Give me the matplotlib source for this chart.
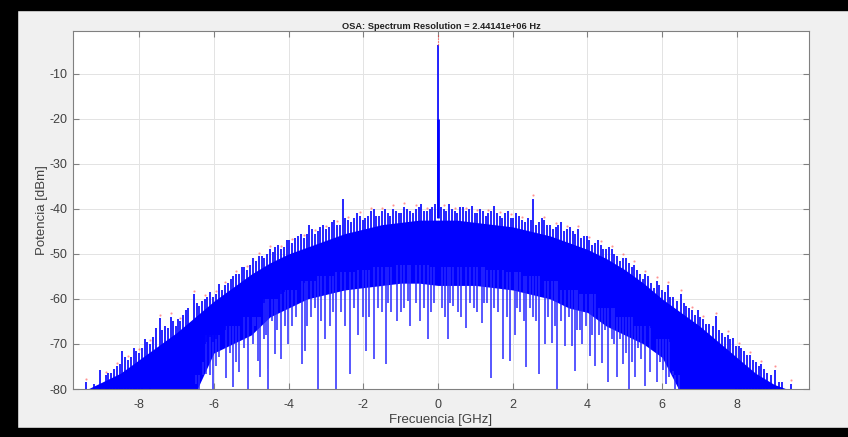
import numpy as np
import matplotlib.pyplot as plt
from matplotlib.patches import Rectangle

plt.rcParams['font.family'] = ['Liberation Sans', 'DejaVu Sans']
plt.rcParams['axes.unicode_minus'] = False

# Body of the spectrum (solid blue band), read every 0.5 GHz
env_f = np.array([-9.5, -9.0, -8.5, -8.0, -7.5, -7.0, -6.5, -6.0, -5.5, -5.0,
                  -4.5, -4.0, -3.5, -3.0, -2.5, -2.0, -1.5, -1.0, -0.5, 0.0,
                  0.5, 1.0, 1.5, 2.0, 2.5, 3.0, 3.5, 4.0, 4.5, 5.0,
                  5.5, 6.0, 6.5, 7.0, 7.5, 8.0, 8.5, 9.0, 9.5])
env_top = np.array([-80.5, -78.5, -76.5, -73.5, -70.5, -67.5, -64.0, -60.5, -57.5, -54.5,
                    -52.0, -50.0, -48.5, -47.0, -45.5, -44.5, -43.5, -43.0, -42.5, -42.5,
                    -42.5, -43.0, -43.5, -44.0, -45.0, -46.0, -47.5, -49.0, -51.0, -53.5,
                    -56.5, -60.0, -63.0, -66.0, -69.5, -73.0, -76.5, -79.0, -80.5])
env_low = np.array([-80.5, -81.0, -81.0, -81.0, -81.0, -81.0, -81.0, -72.0, -70.0, -68.0,
                    -64.0, -62.0, -60.0, -59.0, -58.0, -57.5, -57.0, -56.5, -56.5, -57.0,
                    -57.0, -57.0, -57.5, -58.0, -59.0, -60.0, -62.0, -63.0, -66.0, -68.0,
                    -70.0, -73.0, -81.0, -81.0, -81.0, -81.0, -81.0, -81.0, -80.5])

# Peaks sticking out of the band top
spike_f = np.array([-9.42, -9.05, -8.9, -8.75, -8.6, -8.45, -8.3, -8.15, -8.0, -7.85,
                    -7.7, -7.55, -7.45, -7.3, -7.15, -7.0, -6.9, -6.75, -6.52, -6.4,
                    -6.25, -6.1, -5.95, -5.85, -5.7, -5.55, -5.4, -5.25, -5.1, -4.95,
                    -4.8, -4.65, -4.5, -4.35, -4.2, -4.05, -3.9, -3.75, -3.6, -3.45,
                    -3.3, -3.15, -3.0, -2.85, -2.7, -2.55, -2.4, -2.25, -2.1, -1.95,
                    -1.8, -1.65, -1.5, -1.35, -1.2, -1.05, -0.9, -0.75, -0.6, -0.45,
                    -0.3, -0.15, 0.15, 0.3, 0.45, 0.6, 0.75, 0.9, 1.05, 1.2,
                    1.35, 1.5, 1.65, 1.8, 1.95, 2.1, 2.25, 2.4, 2.55, 2.7,
                    2.85, 3.0, 3.15, 3.3, 3.45, 3.6, 3.75, 3.9, 4.05, 4.2,
                    4.35, 4.5, 4.65, 4.8, 4.95, 5.1, 5.25, 5.4, 5.55, 5.7,
                    5.85, 6.0, 6.15, 6.3, 6.5, 6.65, 6.8, 6.95, 7.1, 7.25,
                    7.45, 7.6, 7.75, 7.9, 8.05, 8.2, 8.35, 8.5, 8.65, 8.8,
                    9.03, 9.2, 9.44])
spike_top = np.array([-78.5, -75.8, -77.0, -76.5, -75.0, -71.5, -73.5, -71.0, -72.0, -69.0,
                      -70.0, -66.5, -64.3, -66.0, -64.0, -66.0, -65.0, -62.5, -59.0, -61.5,
                      -60.0, -58.5, -59.0, -56.7, -57.0, -55.5, -54.5, -53.0, -53.5, -51.0,
                      -50.5, -51.0, -49.0, -48.5, -49.0, -47.0, -47.5, -46.0, -46.5, -43.5,
                      -45.5, -44.0, -44.5, -43.0, -43.5, -37.8, -42.5, -42.0, -41.5, -42.0,
                      -40.5, -41.5, -40.5, -41.0, -40.0, -41.0, -39.5, -40.5, -40.0, -39.0,
                      -40.5, -39.5, -40.0, -39.0, -40.5, -39.5, -40.5, -39.3, -41.0, -40.5,
                      -41.0, -39.3, -41.5, -41.0, -42.0, -41.0, -42.5, -42.0, -37.8, -43.0,
                      -42.5, -43.5, -44.0, -43.0, -44.5, -45.0, -44.5, -46.0, -47.0, -47.5,
                      -48.0, -49.0, -49.0, -50.5, -50.8, -52.0, -52.4, -54.5, -54.5, -56.5,
                      -56.0, -58.0, -57.0, -59.5, -58.8, -61.5, -62.5, -62.5, -64.5, -65.5,
                      -63.9, -67.5, -68.0, -68.6, -70.5, -71.5, -72.5, -74.0, -74.5, -76.5,
                      -75.8, -78.5, -78.9])

# Smaller peaks in between
spike2_f = np.array([-9.2, -8.83, -8.68, -8.52, -8.38, -8.22, -8.08, -7.93, -7.78, -7.62,
                     -7.38, -7.22, -7.08, -6.95, -6.83, -6.68, -6.46, -6.32, -6.18, -6.02,
                     -5.78, -5.62, -5.48, -5.32, -5.18, -5.02, -4.88, -4.72, -4.58, -4.42,
                     -4.28, -4.12, -3.98, -3.82, -3.68, -3.52, -3.38, -3.22, -3.08, -2.92,
                     -2.78, -2.62, -2.48, -2.32, -2.18, -2.02, -1.88, -1.72, -1.58, -1.42,
                     -1.28, -1.12, -0.98, -0.82, -0.68, -0.52, -0.38, -0.22, -0.07, 0.07,
                     0.22, 0.38, 0.52, 0.68, 0.82, 0.98, 1.12, 1.28, 1.42, 1.58,
                     1.72, 1.88, 2.02, 2.18, 2.32, 2.48, 2.62, 2.78, 2.92, 3.08,
                     3.22, 3.38, 3.52, 3.68, 3.82, 3.98, 4.12, 4.28, 4.42, 4.58,
                     4.72, 4.88, 5.02, 5.18, 5.32, 5.48, 5.62, 5.78, 5.92, 6.08,
                     6.22, 6.4, 6.58, 6.72, 6.88, 7.02, 7.18, 7.35, 7.52, 7.68,
                     7.82, 7.98, 8.12, 8.28, 8.42, 8.58, 8.72, 8.92, 9.12])
spike2_top = np.array([-79.0, -76.5, -75.5, -74.5, -73.0, -73.0, -71.5, -71.0, -69.5, -68.5,
                       -67.0, -66.5, -65.0, -64.5, -63.5, -62.0, -61.0, -60.5, -59.5, -59.5,
                       -58.0, -56.5, -55.0, -54.5, -53.0, -52.5, -51.5, -50.5, -50.0, -49.5,
                       -48.0, -48.5, -47.0, -46.5, -45.5, -45.5, -44.5, -45.0, -43.5, -44.0,
                       -42.5, -43.5, -42.0, -43.0, -41.0, -42.5, -41.5, -40.0, -41.5, -40.0,
                       -41.5, -40.5, -41.0, -40.0, -41.0, -39.5, -40.5, -40.0, -39.0, -39.5,
                       -40.5, -40.0, -41.0, -39.5, -40.0, -41.0, -40.0, -41.5, -40.5, -41.0,
                       -42.0, -40.5, -42.0, -41.5, -43.0, -42.5, -43.5, -42.0, -43.5, -44.5,
                       -43.5, -45.0, -44.0, -45.5, -46.5, -46.0, -48.0, -47.0, -49.0, -48.5,
                       -50.0, -51.5, -51.0, -53.0, -53.5, -55.5, -55.0, -57.5, -57.0, -58.5,
                       -59.5, -60.5, -61.0, -62.0, -63.5, -64.0, -65.5, -66.0, -67.0, -68.5,
                       -69.0, -70.5, -71.0, -72.5, -73.5, -75.0, -75.5, -77.0, -78.5])

# Notches hanging below the band
dip_f = np.array([-6.48, -6.39, -6.3, -6.22, -6.1, -6.03, -5.95, -5.85, -5.67, -5.58,
                  -5.5, -5.4, -5.32, -5.2, -5.09, -4.96, -4.9, -4.83, -4.77, -4.65,
                  -4.6, -4.55, -4.45, -4.37, -4.3, -4.19, -4.1, -4.02, -3.9, -3.8,
                  -3.65, -3.57, -3.5, -3.4, -3.3, -3.22, -3.12, -3.03, -2.9, -2.8,
                  -2.72, -2.6, -2.5, -2.36, -2.25, -2.15, -2.0, -1.94, -1.85, -1.72,
                  -1.6, -1.5, -1.39, -1.35, -1.25, -1.11, -1.0, -0.9, -0.8, -0.75,
                  -0.6, -0.48, -0.38, -0.27, -0.2, -0.1, 0.1, 0.2, 0.26, 0.33,
                  0.4, 0.53, 0.62, 0.74, 0.85, 0.95, 1.05, 1.17, 1.22, 1.3,
                  1.41, 1.5, 1.6, 1.73, 1.85, 1.93, 2.06, 2.12, 2.2, 2.3,
                  2.36, 2.45, 2.55, 2.62, 2.71, 2.87, 2.95, 3.05, 3.12, 3.19,
                  3.3, 3.4, 3.5, 3.58, 3.67, 3.72, 3.8, 3.85, 3.95, 4.07,
                  4.12, 4.2, 4.3, 4.39, 4.48, 4.55, 4.65, 4.72, 4.79, 4.88,
                  4.95, 5.03, 5.1, 5.2, 5.28, 5.35, 5.42, 5.55, 5.68, 5.86,
                  5.95, 6.02, 6.1, 6.17, 6.28, 6.35, 6.45])
dip_bottom = np.array([-79.0, -80.0, -74.0, -76.7, -77.0, -80.0, -75.0, -72.8, -77.5, -72.0,
                       -79.6, -74.0, -76.3, -71.0, -80.0, -70.0, -66.0, -73.7, -77.3, -69.0,
                       -68.0, -80.0, -65.0, -72.2, -67.0, -73.3, -66.0, -70.0, -66.0, -64.0,
                       -74.5, -71.6, -66.0, -64.0, -62.0, -80.0, -65.0, -69.0, -66.0, -63.0,
                       -80.0, -63.0, -66.0, -76.7, -62.0, -68.0, -64.0, -71.6, -64.0, -73.3,
                       -62.0, -63.0, -74.4, -61.0, -63.0, -65.0, -63.0, -62.0, -60.5, -66.0,
                       -61.0, -65.0, -62.0, -68.8, -63.0, -61.0, -62.0, -64.0, -68.8, -61.0,
                       -61.5, -62.8, -64.0, -66.5, -61.0, -62.0, -63.0, -65.4, -61.0, -61.0,
                       -77.5, -62.0, -63.0, -73.3, -64.0, -73.7, -68.0, -62.0, -63.0, -65.0,
                       -75.2, -62.0, -64.0, -65.0, -76.7, -70.0, -64.0, -69.8, -66.0, -80.0,
                       -65.0, -70.4, -64.0, -70.5, -76.0, -67.0, -67.0, -70.0, -66.0, -72.6,
                       -68.0, -75.0, -68.0, -74.2, -67.0, -78.5, -69.0, -70.0, -77.4, -69.0,
                       -74.5, -72.0, -80.0, -74.0, -77.3, -71.0, -73.3, -79.3, -76.3, -78.5,
                       -74.0, -75.8, -79.0, -77.3, -76.0, -80.0, -80.0])

# Carrier line at 0 GHz
peak_f = 0.0
peak_top = -3.5
peak_shoulder = -20.0

xtick_vals = [-8, -6, -4, -2, 0, 2, 4, 6, 8]
ytick_vals = [-80, -70, -60, -50, -40, -30, -20, -10]

blue = '#0000ff'
fig = plt.figure(figsize=(8.48, 4.37), dpi=100, facecolor='#f0f0f0')
ax = fig.add_axes([73 / 848, 1 - 389 / 437, 736 / 848, 358 / 437])

ax.fill_between(env_f, env_low, env_top, color=blue, lw=0, zorder=2)
ax.vlines(spike_f, spike_top - 10, spike_top, colors=blue, lw=1.2, zorder=3)
ax.vlines(spike2_f, spike2_top - 10, spike2_top, colors=blue, lw=1.2, zorder=3)

# notch lines reach up into the band (nearest body sample)
idx = np.abs(env_f[:, None] - dip_f[None, :]).argmin(axis=0)
ax.vlines(dip_f, dip_bottom, env_low[idx] + 4, colors='#2828ff', lw=1.1, zorder=2)

ax.plot(spike_f[::2], spike_top[::2] + 0.8, ls='none', marker='.', ms=1.2,
        color='#ff5050', alpha=0.55, zorder=1)

ax.vlines(peak_f, -42, peak_top, colors=blue, lw=1.2, zorder=4)
ax.vlines(peak_f, -42, peak_shoulder, colors=blue, lw=2.0, zorder=4)
ax.vlines(peak_f, peak_top, peak_top + 2.2, colors='#ff3030', linestyles=':', lw=0.8, zorder=4)

ax.set_xlim(-9.77, 9.93)
ax.set_ylim(-80, -0.5)
ax.set_xticks(xtick_vals)
ax.set_yticks(ytick_vals)
ax.grid(True, color='#e3e3e3', lw=0.7)
ax.set_axisbelow(True)
ax.tick_params(direction='in', top=True, right=True, length=4, width=0.8,
               color='#808080', labelcolor='#404040', labelsize=9)
ax.tick_params(axis='x', pad=7)
ax.tick_params(axis='y', pad=4)
for sp in ax.spines.values():
    sp.set_color('#808080')
    sp.set_linewidth(0.8)

ax.set_title('OSA: Spectrum Resolution = 2.44141e+06 Hz', fontsize=6.7, fontweight='bold',
             color='#202020', pad=1.5)
ax.set_xlabel('Frecuencia [GHz]', fontsize=9.5, color='#404040', labelpad=2)
ax.set_ylabel('Potencia [dBm]', fontsize=9.5, color='#404040', labelpad=1)

# black screenshot frame
fig.add_artist(Rectangle((0, 0), 17 / 848, 1, transform=fig.transFigure, color='black'))
fig.add_artist(Rectangle((0, 1 - 10 / 437), 1, 10 / 437, transform=fig.transFigure, color='black'))
fig.add_artist(Rectangle((0, 0), 1, 9 / 437, transform=fig.transFigure, color='black'))

fig.savefig('out.png', dpi=100, facecolor=fig.get_facecolor())
